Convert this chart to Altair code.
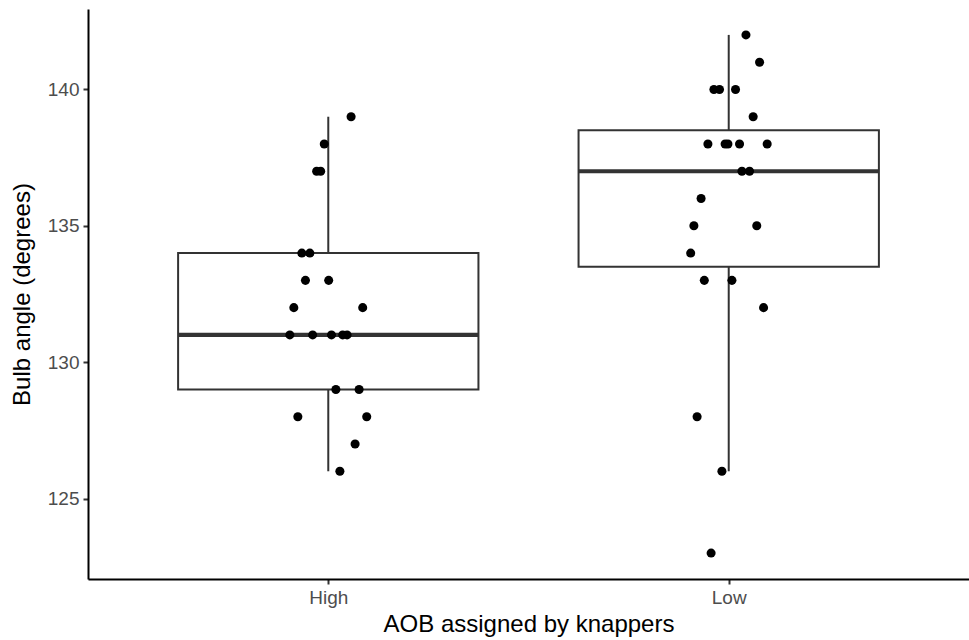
import altair as alt
import pandas as pd
import numpy as np

# Data
groups = ["High", "Low"]
high_values = [139, 138, 137, 137, 134, 134, 133, 133, 132, 132,
               131, 131, 131, 131, 131, 129, 129, 128, 128, 127, 126]
high_jitter = [0.057, -0.010, -0.029, -0.019, -0.066, -0.046, -0.057, 0.001, -0.086, 0.086,
               -0.096, -0.039, 0.008, 0.036, 0.047, 0.019, 0.077, -0.076, 0.096, 0.067, 0.029]
low_values = [142, 141, 140, 140, 140, 139, 138, 138, 138, 138, 138, 137, 137,
              136, 135, 135, 134, 133, 133, 132, 128, 126, 123]
low_jitter = [0.043, 0.077, -0.037, -0.023, 0.017, 0.061, -0.052, -0.009, -0.002, 0.027, 0.096,
              0.033, 0.052, -0.069, -0.087, 0.070, -0.095, -0.061, 0.008, 0.087, -0.079, -0.017, -0.044]

box_width = 0.75

pts_rows = []
stats_rows = []
for i, (g, vals, jit) in enumerate([("High", high_values, high_jitter), ("Low", low_values, low_jitter)]):
    pos = i + 1
    for v, j in zip(vals, jit):
        pts_rows.append({"group": g, "x": pos + j, "value": v})
    arr = np.array(vals, dtype=float)
    q1, med, q3 = np.quantile(arr, [0.25, 0.5, 0.75])
    iqr = q3 - q1
    lo = arr[arr >= q1 - 1.5 * iqr].min()
    hi = arr[arr <= q3 + 1.5 * iqr].max()
    stats_rows.append({"group": g, "pos": pos, "left": pos - box_width / 2,
                       "right": pos + box_width / 2, "q1": q1, "median": med,
                       "q3": q3, "lo": lo, "hi": hi})

pts = pd.DataFrame(pts_rows)
stats = pd.DataFrame(stats_rows)

xscale = alt.Scale(domain=[0.4, 2.6], nice=False, zero=False)
yscale = alt.Scale(domain=[122.05, 142.95], nice=False, zero=False)

xaxis = alt.Axis(values=[1, 2], labelExpr="datum.value == 1 ? 'High' : 'Low'",
                 title="AOB assigned by knappers", grid=False)
yaxis = alt.Axis(values=[125, 130, 135, 140], title="Bulb angle (degrees)", grid=False)

base = alt.Chart(stats)

whisk_lo = base.mark_rule(color="#333333", strokeWidth=2).encode(
    x=alt.X("pos:Q", scale=xscale, axis=xaxis),
    y=alt.Y("lo:Q", scale=yscale, axis=yaxis),
    y2="q1:Q",
)
whisk_hi = base.mark_rule(color="#333333", strokeWidth=2).encode(
    x=alt.X("pos:Q", scale=xscale),
    y=alt.Y("q3:Q", scale=yscale),
    y2="hi:Q",
)
box = base.mark_rect(fill="white", stroke="#333333", strokeWidth=2).encode(
    x=alt.X("left:Q", scale=xscale),
    x2="right:Q",
    y=alt.Y("q1:Q", scale=yscale),
    y2="q3:Q",
)
median = base.mark_rule(color="#333333", strokeWidth=4.2).encode(
    x=alt.X("left:Q", scale=xscale),
    x2="right:Q",
    y=alt.Y("median:Q", scale=yscale),
)
points = alt.Chart(pts).mark_circle(color="black", opacity=1, size=82).encode(
    x=alt.X("x:Q", scale=xscale),
    y=alt.Y("value:Q", scale=yscale),
)

chart = alt.layer(whisk_lo, whisk_hi, box, median, points).properties(
    width=881,
    height=570,
    autosize=alt.AutoSizeParams(type="none"),
    padding={"left": 88, "top": 9, "right": 0, "bottom": 61},
).configure_view(stroke=None).configure_axis(
    labelFont="Liberation Sans",
    titleFont="Liberation Sans",
    labelFontSize=19,
    titleFontSize=24,
    titleFontWeight="normal",
    labelColor="#4D4D4D",
    titleColor="black",
    domainColor="black",
    domainWidth=2,
    tickColor="#333333",
    tickWidth=2,
    tickSize=5,
    labelPadding=4,
).configure_axisX(
    titlePadding=5,
).configure_axisY(
    titlePadding=13,
)

chart.save("out.html", embed_options={"renderer": "svg", "actions": False})
